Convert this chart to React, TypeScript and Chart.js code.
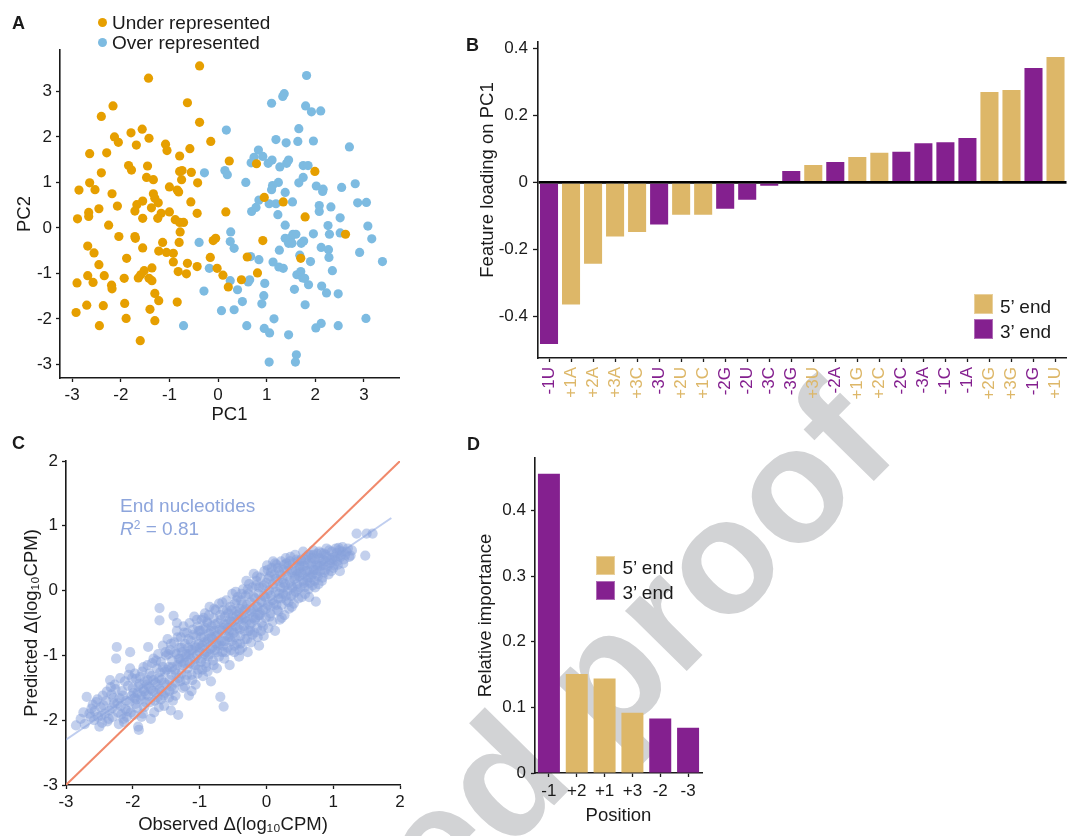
import React, { useEffect, useRef } from "react";
import { Chart, registerables } from "chart.js";

Chart.register(...registerables);

const FONT = "'Liberation Sans', Arial, Helvetica, sans-serif";
Chart.defaults.font.family = FONT;
Chart.defaults.color = "#1a1a1a";

const GOLD = "#DDB768";
const PURPLE = "#84208F";
const ORANGE = "#E69F00";
const SKY = "#7DBBE1";
const PERI_PT = "rgba(136,161,220,0.5)";
const PERI_TXT = "#8DA5DC";
const INK = "#1a1a1a";

// ---------- Panel A data (PC1, PC2) ----------
const underRepresented: [number, number][] = [
  [-0.38,3.56],[-1.43,3.29],[-0.63,2.75],[-2.16,2.68],[-2.40,2.45],[-0.38,2.32],[-2.13,2.0],[-2.05,1.88],
  [-1.79,2.09],[-1.56,2.17],[-1.42,1.97],[-1.68,1.82],[-0.15,1.90],[-1.08,1.84],[-1.05,1.70],[-0.58,1.74],
  [-0.79,1.58],[-2.64,1.63],[-2.29,1.65],[-1.45,1.36],[-1.84,1.37],[-1.78,1.27],[-2.40,1.21],[-0.74,1.26],
  [-0.79,1.24],[-0.55,1.22],[0.23,1.47],[0.79,1.41],[1.99,1.24],[-1.47,1.11],[-1.33,1.06],[-0.75,1.06],
  [-0.42,0.99],[-2.64,0.99],[-2.86,0.83],[-2.53,0.84],[-1.0,0.90],[-0.81,0.79],[-0.84,0.83],[-2.18,0.75],
  [-1.33,0.75],[-1.30,0.65],[-1.23,0.55],[0.95,0.67],[1.34,0.57],[-0.56,0.57],[-1.55,0.59],[-1.67,0.51],
  [-2.07,0.48],[-2.45,0.42],[-1.37,0.44],[-1.71,0.37],[-2.66,0.34],[-1.0,0.35],[0.16,0.35],[-0.43,0.32],
  [-1.17,0.32],[1.79,0.24],[-2.89,0.20],[-2.66,0.25],[-1.55,0.21],[-0.88,0.18],[-0.79,0.12],[-0.71,0.12],
  [-2.25,0.06],[-1.24,0.21],[2.62,-0.14],[-2.04,-0.19],[-1.71,-0.19],[-1.70,-0.23],[-0.78,-0.09],[-0.80,-0.32],
  [-1.14,-0.32],[-2.68,-0.40],[-2.55,-0.55],[-1.55,-0.44],[-1.22,-0.51],[-1.06,-0.54],[-0.92,-0.56],[-1.88,-0.67],
  [-0.92,-0.75],[-0.63,-0.78],[-0.43,-0.85],[-0.10,-0.28],[-0.05,-0.23],[0.92,-0.28],[-0.16,-0.65],[0.60,-0.64],
  [1.70,-0.67],[-0.02,-0.89],[0.10,-1.04],[0.48,-1.14],[0.21,-1.30],[0.81,-0.99],[-2.45,-0.81],[-2.68,-1.05],
  [-2.34,-1.05],[-2.57,-1.20],[-2.90,-1.21],[-2.19,-1.26],[-2.18,-1.34],[-1.93,-1.11],[-1.52,-0.94],[-1.59,-1.03],
  [-1.64,-1.10],[-1.42,-1.11],[-1.36,-1.16],[-1.36,-0.88],[-0.82,-0.96],[-0.65,-1.01],[-1.30,-1.44],[-1.22,-1.60],
  [-0.84,-1.63],[-2.92,-1.86],[-2.70,-1.70],[-2.36,-1.71],[-1.92,-1.66],[-1.40,-1.79],[-1.89,-1.99],[-1.30,-2.04],
  [-2.44,-2.15],[-1.60,-2.48],
];

const overRepresented: [number, number][] = [
  [1.82,3.35],[1.36,2.95],[1.33,2.89],[1.10,2.74],[1.80,2.68],[1.92,2.55],[2.11,2.57],[0.17,2.15],
  [1.66,2.18],[1.19,1.94],[1.40,1.87],[1.64,1.90],[1.96,1.91],[2.70,1.78],[0.83,1.71],[0.74,1.55],
  [0.92,1.57],[0.68,1.43],[1.11,1.49],[1.03,1.42],[1.45,1.49],[1.41,1.42],[1.27,1.34],[1.75,1.37],
  [1.85,1.37],[-0.28,1.21],[0.14,1.26],[0.19,1.17],[1.75,1.11],[1.66,0.99],[0.57,1.0],[1.24,1.0],
  [1.12,0.93],[2.02,0.92],[2.16,0.85],[2.15,0.80],[2.82,0.97],[2.54,0.89],[1.10,0.84],[1.38,0.78],
  [0.84,0.61],[1.05,0.53],[1.19,0.53],[1.53,0.57],[2.08,0.49],[2.32,0.46],[2.87,0.55],[3.05,0.56],
  [0.69,0.36],[0.78,0.45],[1.23,0.29],[2.08,0.36],[2.51,0.22],[2.26,0.05],[1.38,0.06],[3.08,0.04],
  [3.16,-0.24],[3.38,-0.74],[2.91,-0.54],[3.04,-1.99],[2.29,-0.14],[2.51,-0.11],[1.96,-0.13],[1.54,-0.14],
  [1.60,-0.14],[1.49,-0.22],[1.38,-0.23],[1.45,-0.34],[1.52,-0.34],[1.71,-0.34],[1.76,-0.29],[1.26,-0.49],
  [2.12,-0.43],[2.27,-0.48],[2.28,-0.65],[1.68,-0.60],[1.90,-0.74],[1.13,-0.75],[1.25,-0.86],[1.34,-0.89],
  [0.84,-0.70],[0.67,-0.63],[-0.39,-0.32],[0.26,-0.09],[0.25,-0.30],[0.33,-0.45],[-0.18,-0.89],[2.35,-0.94],
  [1.62,-1.03],[1.70,-0.96],[1.74,-1.10],[1.78,-1.11],[1.86,-1.25],[2.13,-1.28],[2.23,-1.43],[2.47,-1.45],
  [1.57,-1.35],[1.79,-1.69],[0.96,-1.22],[0.94,-1.49],[0.90,-1.67],[0.65,-1.14],[0.62,-1.19],[0.25,-1.16],
  [0.40,-1.36],[0.50,-1.62],[-0.29,-1.39],[0.07,-1.82],[0.33,-1.80],[1.15,-2.0],[0.59,-2.15],[0.95,-2.21],
  [1.06,-2.31],[1.45,-2.35],[2.01,-2.20],[2.12,-2.10],[2.47,-2.15],[-0.71,-2.15],[1.61,-2.79],[1.59,-2.95],
  [1.05,-2.95],
];
const pcTicks = [-3, -2, -1, 0, 1, 2, 3];

// ---------- Panel B data ----------
const featureLabels = ["-1U","+1A","+2A","+3A","+3C","-3U","+2U","+1C","-2G","-2U","-3C","-3G","+3U","-2A","+1G","+2C","-2C","-3A","-1C","-1A","+2G","+3G","-1G","+1U"];
const featureLoadings = [-0.483,-0.365,-0.243,-0.162,-0.148,-0.126,-0.097,-0.097,-0.079,-0.052,-0.010,0.034,0.052,0.061,0.076,0.088,0.091,0.117,0.120,0.132,0.270,0.276,0.341,0.374];
const loadingTicks = [-0.4, -0.2, 0, 0.2, 0.4];

// ---------- Panel C data (observed, predicted) ----------
const endNucleotidePoints: [number, number][] = [
  [-2.85,-2.08],[-2.78,-1.98],[-2.72,-2.06],[-2.69,-1.64],[-2.65,-1.90],[-2.62,-1.82],[-2.58,-2.00],[-2.55,-1.72],[-2.52,-1.95],[-2.50,-2.10],[-2.60,-1.76],[-2.74,-1.88],
  [-2.48,-1.80],[-2.45,-1.62],[-2.42,-1.90],[-2.40,-1.70],[-2.38,-2.02],[-2.35,-1.85],[-2.34,-1.38],[-2.32,-1.60],[-2.30,-1.95],[-2.28,-1.74],[-2.26,-1.52],[-2.25,-1.05],[-2.24,-0.87],[-2.22,-1.88],[-2.20,-1.66],[-2.19,-1.35],[-2.21,-2.06],[-2.27,-1.45],
  [-2.18,-1.78],[-2.16,-1.55],[-2.14,-1.98],[-2.12,-1.40],[-2.10,-1.70],[-2.08,-1.86],[-2.06,-1.30],[-2.04,-0.95],[-2.04,-1.20],[-2.02,-1.62],[-2.00,-1.50],[-1.98,-1.92],[-1.96,-1.75],[-1.95,-1.36],[-1.93,-1.58],[-1.92,-2.10],[-1.91,-2.15],[-1.90,-1.44],[-2.09,-1.95],[-1.97,-1.66],
  [-1.88,-1.68],[-1.86,-1.25],[-1.85,-1.52],[-1.83,-1.80],[-1.82,-1.40],[-1.80,-1.60],[-1.78,-1.15],[-1.77,-0.87],[-1.76,-1.48],[-1.74,-1.72],[-1.72,-1.32],[-1.70,-1.55],[-1.69,-1.05],[-1.68,-1.88],[-1.66,-1.42],[-1.64,-1.20],[-1.63,-1.65],[-1.62,-0.98],[-1.61,-1.35],[-1.60,-0.27],[-1.60,-0.46],[-1.60,-1.52],[-1.87,-1.95],[-1.73,-1.98],
  [-1.58,-1.10],[-1.57,-1.38],[-1.55,-0.85],[-1.54,-1.62],[-1.52,-1.25],[-1.50,-1.00],[-1.49,-1.45],[-1.48,-0.75],[-1.46,-1.18],[-1.45,-1.55],[-1.44,-0.92],[-1.42,-1.30],[-1.41,-1.08],[-1.40,-1.70],[-1.39,-0.39],[-1.38,-0.80],[-1.37,-1.22],[-1.36,-1.42],[-1.35,-0.98],[-1.34,-0.62],[-1.33,-1.15],[-1.32,-1.92],[-1.31,-1.35],[-1.30,-0.88],[-1.53,-1.78],[-1.43,-1.85],
  [-1.29,-1.05],[-1.28,-0.72],[-1.27,-1.28],[-1.26,-0.95],[-1.25,-1.50],[-1.24,-0.55],[-1.23,-1.12],[-1.22,-0.82],[-1.21,-1.38],[-1.20,-0.98],[-1.19,-0.65],[-1.18,-1.20],[-1.17,-0.88],[-1.16,-1.62],[-1.15,-0.50],[-1.14,-1.05],[-1.13,-0.78],[-1.12,-1.30],[-1.11,-0.92],[-1.10,-0.60],[-1.09,-1.15],[-1.08,-0.40],[-1.07,-0.85],[-1.06,-1.45],[-1.05,-0.70],[-1.04,-1.00],[-1.03,-0.55],[-1.02,-1.22],[-1.01,-0.82],[-1.00,-0.95],
  [-0.99,-0.62],[-0.98,-1.10],[-0.97,-0.45],[-0.96,-0.85],[-0.95,-1.32],[-0.94,-0.72],[-0.93,-0.98],[-0.92,-0.35],[-0.91,-0.58],[-0.90,-1.18],[-0.89,-0.80],[-0.88,-0.50],[-0.87,-1.02],[-0.86,-0.66],[-0.85,-0.25],[-0.84,-0.90],[-0.83,-1.40],[-0.82,-0.55],[-0.81,-0.75],[-0.80,-1.08],[-0.79,-0.42],[-0.78,-0.62],[-0.77,-0.92],[-0.76,-0.30],[-0.75,-0.70],[-0.74,-1.20],[-0.73,-0.50],[-0.72,-0.85],[-0.71,-0.20],[-0.70,-0.60],[-0.69,-1.64],[-0.64,-1.79],
  [-0.68,-0.45],[-0.67,-0.78],[-0.66,-0.95],[-0.65,-0.30],[-0.64,-0.58],[-0.63,-1.05],[-0.62,-0.40],[-0.61,-0.70],[-0.60,-0.15],[-0.59,-0.52],[-0.58,-0.88],[-0.57,-0.35],[-0.56,-0.62],[-0.55,-1.15],[-0.54,-0.25],[-0.53,-0.48],[-0.52,-0.78],[-0.51,-0.05],[-0.50,-0.40],[-0.49,-0.65],[-0.48,-0.95],[-0.47,-0.20],[-0.46,-0.55],[-0.45,-0.32],[-0.44,-0.82],[-0.43,-0.10],[-0.42,-0.45],[-0.41,-1.02],[-0.40,-0.60],[-0.40,-0.28],
  [-0.39,-0.70],[-0.38,-0.15],[-0.37,-0.42],[-0.36,-0.88],[-0.35,0.02],[-0.34,-0.55],[-0.33,-0.30],[-0.32,-0.75],[-0.31,-0.08],[-0.30,-0.48],[-0.29,-0.22],[-0.28,-0.95],[-0.27,-0.62],[-0.26,0.10],[-0.25,-0.35],[-0.24,-0.18],[-0.23,-0.80],[-0.22,-0.50],[-0.21,0.05],[-0.20,-0.28],[-0.19,0.26],[-0.18,-0.65],[-0.17,-0.12],[-0.16,-0.42],[-0.15,0.15],[-0.14,-0.58],[-0.13,-0.25],[-0.12,-0.05],[-0.11,-0.85],[-0.10,-0.38],
  [-0.09,0.20],[-0.08,-0.15],[-0.07,-0.50],[-0.06,0.05],[-0.05,-0.30],[-0.04,-0.70],[-0.03,0.30],[-0.02,-0.10],[-0.01,-0.42],[0.00,0.12],[0.01,0.39],[0.02,-0.22],[0.03,-0.58],[0.04,0.00],[0.05,0.22],[0.06,-0.35],[0.07,-0.08],[0.08,0.35],[0.09,-0.48],[0.10,0.10],[0.11,-0.20],[0.12,0.25],[0.13,-0.62],[0.14,-0.02],[0.15,0.40],[0.16,-0.30],[0.17,0.15],[0.18,-0.12],[0.19,0.30],[0.20,-0.45],
  [0.21,0.05],[0.22,0.45],[0.23,-0.22],[0.24,0.18],[0.25,-0.05],[0.26,0.32],[0.27,-0.38],[0.28,0.10],[0.29,0.50],[0.30,-0.15],[0.31,0.22],[0.32,0.00],[0.33,0.38],[0.34,-0.28],[0.35,0.15],[0.36,0.52],[0.37,-0.08],[0.38,0.28],[0.39,0.05],[0.40,0.42],[0.41,-0.20],[0.42,0.18],[0.43,0.55],[0.44,-0.02],[0.45,0.30],[0.46,0.10],[0.47,0.45],[0.48,-0.12],[0.49,0.22],[0.50,0.35],
  [0.51,0.05],[0.52,0.48],[0.53,-0.10],[0.54,0.25],[0.55,0.60],[0.56,0.12],[0.57,0.38],[0.58,-0.05],[0.59,0.30],[0.60,0.52],[0.61,0.15],[0.62,0.42],[0.63,0.02],[0.64,-0.10],[0.65,0.28],[0.66,0.55],[0.67,0.20],[0.68,0.40],[0.69,0.08],[0.70,0.62],[0.71,0.32],[0.72,0.15],[0.73,0.48],[0.74,-0.17],[0.75,0.25],[0.76,0.57],[0.77,0.38],[0.78,0.10],[0.79,0.50],[0.80,0.30],
  [0.82,0.45],[0.84,0.20],[0.86,0.57],[0.86,0.39],[0.88,0.32],[0.90,0.65],[0.91,0.52],[0.93,0.25],[0.95,0.42],[0.96,0.47],[0.98,0.60],[1.00,0.35],[1.01,0.39],[1.03,0.52],[1.04,0.65],[1.06,0.45],[1.09,0.62],[1.10,0.30],[1.12,0.55],[1.14,0.67],[1.16,0.48],[1.20,0.60],[1.24,0.52],[1.26,0.54],
  [1.35,0.88],[1.48,0.54],[1.50,0.88],[1.59,0.88],
  [-2.57,-1.86],[-2.53,-1.68],[-2.47,-1.93],[-2.44,-1.77],[-2.39,-1.56],[-2.36,-1.98],[-2.31,-1.81],[-2.29,-1.66],[-2.23,-1.74],[-2.17,-1.91],[-2.15,-1.62],[-2.11,-1.83],[-2.07,-1.47],[-2.05,-1.72],[-2.03,-1.88],[-2.01,-1.35],[-2.46,-2.04],[-2.33,-1.49],[-2.13,-2.03],[-2.63,-1.95],
  [-1.99,-1.58],[-1.97,-1.28],[-1.94,-1.81],[-1.92,-1.48],[-1.89,-1.33],[-1.87,-1.62],[-1.84,-1.18],[-1.81,-1.72],[-1.79,-1.45],[-1.77,-1.62],[-1.75,-1.28],[-1.73,-1.52],[-1.71,-1.12],[-1.69,-1.38],[-1.67,-1.70],[-1.65,-1.08],[-1.63,-1.45],[-1.61,-1.80],[-1.59,-1.26],[-1.57,-1.55],[-1.55,-1.18],[-1.53,-1.42],[-1.51,-0.95],[-1.95,-1.68],[-1.85,-1.90],[-1.78,-1.38],[-1.66,-1.58],[-1.58,-1.68],[-1.52,-1.58],[-1.83,-1.55],
  [-1.49,-1.22],[-1.47,-0.98],[-1.45,-1.38],[-1.43,-0.82],[-1.41,-1.18],[-1.39,-1.52],[-1.37,-0.95],[-1.35,-1.28],[-1.33,-0.72],[-1.31,-1.05],[-1.29,-1.40],[-1.27,-0.88],[-1.25,-1.15],[-1.23,-0.65],[-1.21,-1.02],[-1.19,-1.30],[-1.17,-0.75],[-1.15,-1.12],[-1.13,-0.92],[-1.11,-1.38],[-1.09,-0.68],[-1.07,-1.05],[-1.05,-0.88],[-1.03,-1.28],[-1.01,-0.62],[-1.46,-1.65],[-1.42,-1.48],[-1.36,-1.62],[-1.28,-1.10],[-1.22,-1.48],[-1.16,-0.98],[-1.12,-1.55],[-1.06,-1.15],[-1.04,-0.45],[-1.34,-0.50],
  [-0.99,-0.88],[-0.97,-1.05],[-0.95,-0.60],[-0.93,-0.80],[-0.91,-1.12],[-0.89,-0.48],[-0.87,-0.75],[-0.85,-0.98],[-0.83,-0.62],[-0.81,-0.88],[-0.79,-1.15],[-0.77,-0.52],[-0.75,-0.82],[-0.73,-0.68],[-0.71,-1.02],[-0.69,-0.38],[-0.67,-0.62],[-0.65,-0.85],[-0.63,-0.52],[-0.61,-0.95],[-0.59,-0.30],[-0.57,-0.72],[-0.55,-0.45],[-0.53,-0.92],[-0.51,-0.62],[-0.98,-0.72],[-0.94,-0.42],[-0.90,-0.95],[-0.86,-0.38],[-0.82,-0.72],[-0.78,-0.28],[-0.74,-0.95],[-0.70,-0.82],[-0.66,-0.18],[-0.62,-0.78],[-0.58,-0.58],[-0.54,-0.72],[-0.52,-0.30],[-0.96,-1.22],[-0.88,-1.25],
  [-0.49,-0.48],[-0.47,-0.72],[-0.45,-0.15],[-0.43,-0.58],[-0.41,-0.35],[-0.39,-0.82],[-0.37,-0.05],[-0.35,-0.45],[-0.33,-0.62],[-0.31,-0.28],[-0.29,-0.75],[-0.27,-0.05],[-0.25,-0.52],[-0.23,-0.32],[-0.21,-0.68],[-0.19,-0.10],[-0.17,-0.45],[-0.15,-0.25],[-0.13,-0.72],[-0.11,0.05],[-0.09,-0.35],[-0.07,-0.18],[-0.05,-0.55],[-0.03,0.08],[-0.01,-0.28],[-0.48,-0.85],[-0.44,-0.38],[-0.40,-0.92],[-0.36,-0.22],[-0.32,-0.42],[-0.28,0.02],[-0.24,-0.62],[-0.20,-0.42],[-0.16,0.08],[-0.12,-0.38],[-0.08,-0.62],[-0.04,-0.08],[-0.46,-0.02],[-0.30,0.15],[-0.14,0.22],
  [0.01,-0.05],[0.03,0.18],[0.05,-0.40],[0.07,0.28],[0.09,-0.15],[0.11,0.05],[0.13,0.42],[0.15,-0.22],[0.17,0.35],[0.19,-0.05],[0.21,0.25],[0.23,-0.42],[0.25,0.12],[0.27,0.40],[0.29,-0.08],[0.31,0.30],[0.33,-0.18],[0.35,0.45],[0.37,0.08],[0.39,0.32],[0.41,-0.05],[0.43,0.22],[0.45,0.48],[0.47,0.02],[0.49,0.38],[0.02,0.32],[0.06,-0.25],[0.10,0.45],[0.14,0.18],[0.18,-0.32],[0.22,-0.12],[0.26,0.05],[0.30,0.42],[0.38,-0.25],[0.46,0.25],
  [0.51,0.28],[0.53,0.45],[0.55,0.15],[0.57,0.05],[0.59,0.48],[0.61,0.30],[0.63,0.55],[0.65,0.12],[0.67,0.42],[0.69,0.25],[0.71,0.55],[0.73,0.05],[0.75,0.40],[0.77,0.22],[0.79,0.60],[0.81,0.38],[0.83,0.15],[0.85,0.48],[0.87,0.28],[0.89,0.55],[0.92,0.38],[0.94,0.62],[0.97,0.30],[0.99,0.50],[0.54,0.38],[0.62,0.20],[0.68,0.50],[0.74,0.32],[0.82,0.58],[0.88,0.45],
  [1.02,0.48],[1.05,0.58],[1.07,0.40],[1.11,0.52],[1.13,0.60],[1.18,0.55],[1.22,0.65],[1.28,0.62],[1.08,0.66],[1.15,0.42],
];
const identityX = [-3, 2];
const identityY = [-3, 2];
const fitX = [-3, 1.87];
const fitY = [-2.3, 1.12];
const cprmTicks = [-3, -2, -1, 0, 1, 2];

// ---------- Panel D data ----------
const positions = ["-1", "+2", "+1", "+3", "-2", "-3"];
const importance = [0.456, 0.151, 0.144, 0.092, 0.083, 0.069];
const importanceTicks = [0, 0.1, 0.2, 0.3, 0.4];

const endColor = (label: string) => (label.startsWith("+") ? GOLD : PURPLE);

function fixedTicks(values: number[]) {
  return (s: any) => {
    s.ticks = values.map((v) => ({ value: v }));
  };
}

function axisBase(tickLen: number, pad: number, size = 17) {
  return {
    border: { display: true, color: INK, width: 1.6 },
    grid: {
      display: true,
      drawOnChartArea: false,
      drawTicks: true,
      tickLength: tickLen,
      tickColor: INK,
      tickWidth: 1.3,
    },
    ticks: { font: { size }, color: INK, padding: pad },
  };
}

function ChartBox(props: { left: number; top: number; width: number; height: number; make: () => any }) {
  const ref = useRef<HTMLCanvasElement | null>(null);
  useEffect(() => {
    if (!ref.current) return;
    const chart = new Chart(ref.current, props.make());
    return () => chart.destroy();
  }, []);
  const { left, top, width, height } = props;
  return (
    <div style={{ position: "absolute", left, top, width, height }}>
      <canvas ref={ref} width={width} height={height} style={{ width, height, display: "block" }} />
    </div>
  );
}

function Text(props: { x: number; cy: number; size: number; children: any; color?: string; bold?: boolean }) {
  const { x, cy, size, children, color, bold } = props;
  return (
    <div
      style={{
        position: "absolute",
        left: x,
        top: cy - 0.49 * size,
        fontSize: size,
        lineHeight: `${size}px`,
        fontFamily: FONT,
        fontWeight: bold ? 700 : 400,
        color: color || INK,
        whiteSpace: "nowrap",
      }}
    >
      {children}
    </div>
  );
}

function Swatch(props: { x: number; y: number; color: string; w?: number; h?: number }) {
  return (
    <div
      style={{
        position: "absolute",
        left: props.x,
        top: props.y,
        width: props.w || 19,
        height: props.h || 19,
        background: props.color,
        boxSizing: "border-box",
        border: "1px solid rgba(255,255,255,0.35)",
      }}
    />
  );
}

const noPlugins = { legend: { display: false }, tooltip: { enabled: false } };

function makeA() {
  return {
    type: "scatter",
    data: {
      datasets: [
        {
          label: "Under represented",
          data: underRepresented.map(([x, y]) => ({ x, y })),
          backgroundColor: ORANGE,
          borderWidth: 0,
          pointRadius: 4.6,
        },
        {
          label: "Over represented",
          data: overRepresented.map(([x, y]) => ({ x, y })),
          backgroundColor: SKY,
          borderWidth: 0,
          pointRadius: 4.6,
        },
      ],
    },
    options: {
      responsive: false,
      animation: false,
      layout: { padding: { top: 20, right: 13, left: 0, bottom: 0 } },
      plugins: noPlugins,
      scales: {
        x: {
          type: "linear",
          min: -3.25,
          max: 3.72,
          ...axisBase(4, 3),
          afterBuildTicks: fixedTicks(pcTicks),
          afterFit: (s: any) => { s.height = 52; },
          title: { display: true, text: "PC1", font: { size: 18.5 }, color: INK, padding: { top: 0, bottom: 4 } },
        },
        y: {
          type: "linear",
          min: -3.3,
          max: 3.91,
          ...axisBase(4, 4),
          afterBuildTicks: fixedTicks(pcTicks),
          afterFit: (s: any) => { s.width = 60; },
          title: { display: true, text: "PC2", font: { size: 18.5 }, color: INK, padding: { top: 14, bottom: 0 } },
        },
      },
    },
  };
}

function makeB() {
  const colors = featureLabels.map(endColor);
  return {
    type: "bar",
    data: {
      labels: featureLabels,
      datasets: [
        {
          data: featureLoadings,
          backgroundColor: colors,
          borderWidth: 0,
          barPercentage: 0.82,
          categoryPercentage: 1,
        },
      ],
    },
    options: {
      responsive: false,
      animation: false,
      layout: { padding: { top: 22, right: 4, left: 0, bottom: 0 } },
      plugins: noPlugins,
      scales: {
        x: {
          ...axisBase(4, 5),
          offset: true,
          grid: { display: true, offset: false, drawOnChartArea: false, drawTicks: true, tickLength: 4, tickColor: INK, tickWidth: 1.3 },
          ticks: {
            font: { size: 17 },
            padding: 5,
            minRotation: 90,
            maxRotation: 90,
            autoSkip: false,
            color: (ctx: any) => colors[ctx.index],
          },
          afterFit: (s: any) => { s.height = 52; },
        },
        y: {
          min: -0.5245,
          max: 0.419,
          z: 1,
          border: { display: true, color: INK, width: 1.6 },
          grid: {
            display: true,
            drawOnChartArea: true,
            drawTicks: true,
            tickLength: 5,
            color: (ctx: any) => (ctx.tick && ctx.tick.value === 0 ? "#000" : "rgba(0,0,0,0)"),
            lineWidth: (ctx: any) => (ctx.tick && ctx.tick.value === 0 ? 2.8 : 1),
            tickColor: INK,
            tickWidth: 1.3,
          },
          ticks: { font: { size: 17 }, color: INK, padding: 5 },
          afterBuildTicks: fixedTicks(loadingTicks),
          afterFit: (s: any) => { s.width = 68; },
        },
      },
    },
  };
}

function makeC() {
  return {
    type: "scatter",
    data: {
      datasets: [
        {
          label: "identity",
          data: identityX.map((x, i) => ({ x, y: identityY[i] })),
          showLine: true,
          borderColor: "#F0896B",
          borderWidth: 2,
          pointRadius: 0,
          order: 0,
        },
        {
          label: "End nucleotides",
          data: endNucleotidePoints.map(([x, y]) => ({ x, y })),
          backgroundColor: PERI_PT,
          borderWidth: 0,
          pointRadius: 5.1,
          order: 1,
        },
        {
          label: "fit",
          data: fitX.map((x, i) => ({ x, y: fitY[i] })),
          showLine: true,
          borderColor: "rgba(140,165,225,0.55)",
          borderWidth: 2,
          pointRadius: 0,
          order: 2,
        },
      ],
    },
    options: {
      responsive: false,
      animation: false,
      layout: { padding: { top: 21, right: 10, left: 0, bottom: 0 } },
      plugins: noPlugins,
      scales: {
        x: {
          type: "linear",
          min: -3,
          max: 2,
          ...axisBase(4, 3),
          afterBuildTicks: fixedTicks(cprmTicks),
          afterFit: (s: any) => { s.height = 51; },
          title: { display: true, text: "Observed Δ(log₁₀CPM)", font: { size: 18.5 }, color: INK, padding: { top: 0, bottom: 0 } },
        },
        y: {
          type: "linear",
          min: -3,
          max: 2,
          ...axisBase(4, 4),
          afterBuildTicks: fixedTicks(cprmTicks),
          afterFit: (s: any) => { s.width = 66; },
          title: { display: true, text: "Predicted Δ(log₁₀CPM)", font: { size: 18.5 }, color: INK, padding: { top: 21, bottom: 0 } },
        },
      },
    },
  };
}

function makeD() {
  return {
    type: "bar",
    data: {
      labels: positions,
      datasets: [
        {
          data: importance,
          backgroundColor: positions.map(endColor),
          borderWidth: 0,
          barPercentage: 0.79,
          categoryPercentage: 1,
        },
      ],
    },
    options: {
      responsive: false,
      animation: false,
      layout: { padding: { top: 20, right: 8, left: 0, bottom: 0 } },
      plugins: noPlugins,
      scales: {
        x: {
          ...axisBase(4, 4),
          offset: true,
          grid: { display: true, offset: false, drawOnChartArea: false, drawTicks: true, tickLength: 4, tickColor: INK, tickWidth: 1.3 },
          afterFit: (s: any) => { s.height = 63; },
          title: { display: true, text: "Position", font: { size: 18.5 }, color: INK, padding: { top: 0, bottom: 9 } },
        },
        y: {
          min: 0,
          max: 0.48,
          ...axisBase(4, 5),
          afterBuildTicks: fixedTicks(importanceTicks),
          afterFit: (s: any) => { s.width = 65; },
          title: { display: true, text: "Relative importance", font: { size: 18.5 }, color: INK, padding: { top: 4.5, bottom: 0 } },
        },
      },
    },
  };
}

export default function App() {
  return (
    <div
      style={{
        position: "absolute",
        left: 0,
        top: 0,
        width: 1072,
        height: 836,
        overflow: "hidden",
        background: "#fff",
        fontFamily: FONT,
      }}
    >
      {/* watermark (behind the charts) */}
      <div style={{ position: "absolute", left: 919, top: 471.4, width: 0, height: 0, transform: "rotate(-45.4deg)", transformOrigin: "0 0" }}>
        <span
          style={{
            position: "absolute",
            right: 0,
            bottom: 0,
            fontSize: 163,
            lineHeight: 1,
            fontWeight: 700,
            fontFamily: FONT,
            color: "#D2D3D5",
            whiteSpace: "nowrap",
          }}
        >
          Accepted proof
        </span>
      </div>

      <ChartBox left={0} top={30} width={412} height={400} make={makeA} />
      <ChartBox left={470} top={20} width={611} height={390} make={makeB} />
      <ChartBox left={0} top={440} width={410} height={396} make={makeC} />
      <ChartBox left={470} top={438} width={240} height={398} make={makeD} />

      {/* panel letters */}
      <Text x={12} cy={23} size={18} bold>A</Text>
      <Text x={466} cy={44.5} size={18} bold>B</Text>
      <Text x={12} cy={443} size={18} bold>C</Text>
      <Text x={467} cy={444} size={18} bold>D</Text>

      {/* Panel A legend */}
      <div style={{ position: "absolute", left: 98, top: 17.5, width: 9, height: 9, borderRadius: "50%", background: ORANGE }} />
      <Text x={112} cy={22.5} size={19}>Under represented</Text>
      <div style={{ position: "absolute", left: 98, top: 37.5, width: 9, height: 9, borderRadius: "50%", background: SKY }} />
      <Text x={112} cy={42.5} size={19}>Over represented</Text>

      {/* Panel B y title */}
      <div
        style={{
          position: "absolute",
          left: 486.5,
          top: 180,
          transform: "translate(-50%, -50%) rotate(-90deg)",
          fontSize: 18.5,
          lineHeight: 1,
          whiteSpace: "nowrap",
          color: INK,
          fontFamily: FONT,
        }}
      >
        Feature loading on PC1
      </div>

      {/* Panel B legend */}
      <Swatch x={974} y={294} color={GOLD} h={20} />
      <Text x={1000} cy={306} size={19}>5’ end</Text>
      <Swatch x={974} y={319} color={PURPLE} h={20} />
      <Text x={1000} cy={331} size={19}>3’ end</Text>

      {/* Panel C annotation */}
      <Text x={120} cy={505.5} size={19} color={PERI_TXT}>End nucleotides</Text>
      <Text x={120} cy={528.5} size={19} color={PERI_TXT}>
        <span style={{ fontStyle: "italic" }}>R</span>
        <span style={{ fontSize: 12, verticalAlign: "6px", lineHeight: 0 }}>2</span> = 0.81
      </Text>

      {/* Panel D legend */}
      <Swatch x={596} y={556} color={GOLD} />
      <Text x={622.5} cy={567.5} size={19}>5’ end</Text>
      <Swatch x={596} y={581} color={PURPLE} />
      <Text x={622.5} cy={592.5} size={19}>3’ end</Text>
    </div>
  );
}
